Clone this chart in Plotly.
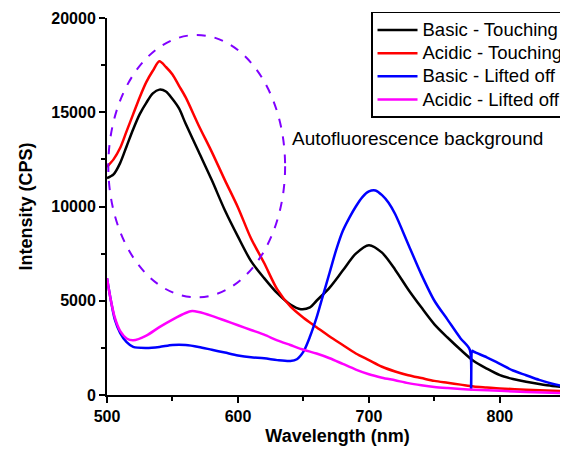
import plotly.graph_objects as go

# ---- data ----
bt_x = [500, 505, 510, 515, 520, 525, 530, 535, 540, 545, 550, 555, 560, 570, 580, 590, 600, 610, 620,
        630, 640, 648, 655, 660, 670, 680, 690, 700, 710, 720, 730, 740, 750, 760, 770, 780, 790, 800,
        810, 820, 830, 840, 852]
bt_y = [11500, 11700, 12300, 13200, 14100, 14900, 15500, 16000, 16200, 16100, 15700, 15200, 14400, 12900,
        11400, 9800, 8400, 7100, 6200, 5400, 4800, 4550, 4650, 5000, 5700, 6600, 7500, 7950, 7550, 6650,
        5600, 4650, 3750, 3050, 2400, 1800, 1400, 1050, 850, 700, 580, 480, 410]

at_x = [500, 505, 510, 515, 520, 525, 530, 535, 540, 545, 550, 555, 560, 570, 580, 590, 600, 610, 620,
        630, 640, 650, 660, 670, 680, 690, 700, 710, 720, 730, 740, 750, 760, 770, 780, 790, 800, 820, 852]
at_y = [12100, 12500, 13100, 14000, 14900, 15800, 16600, 17200, 17700, 17400, 17000, 16400, 15800, 14300,
        12900, 11400, 9950, 8300, 7000, 5600, 4700, 4100, 3600, 3100, 2650, 2200, 1850, 1500, 1250, 1050,
        900, 750, 650, 550, 450, 400, 350, 280, 200]

bl_x = [500, 503, 506, 510, 515, 520, 530, 540, 550, 560, 570, 580, 590, 600, 610, 620, 630, 640, 645,
        650, 655, 660, 665, 670, 675, 680, 685, 690, 695, 700, 705, 710, 715, 720, 730, 740, 750, 760,
        770, 777, 778, 779, 780, 790, 800, 810, 820, 830, 840, 852]
bl_y = [6200, 5000, 4000, 3300, 2800, 2550, 2500, 2550, 2650, 2650, 2550, 2400, 2250, 2100, 2000, 1950,
        1850, 1800, 1900, 2300, 3100, 4100, 5300, 6500, 7700, 8700, 9400, 10000, 10500, 10800, 10850,
        10600, 10200, 9600, 8000, 6400, 5000, 4000, 3000, 2400, 300, 2350, 2300, 2000, 1650, 1300, 1050,
        800, 600, 420]

al_x = [500, 503, 506, 510, 515, 520, 530, 540, 550, 560, 565, 570, 580, 590, 600, 610, 620, 630, 640,
        650, 660, 670, 680, 690, 700, 710, 720, 730, 740, 750, 760, 770, 780, 800, 820, 852]
al_y = [6200, 5000, 4100, 3400, 3000, 2900, 3150, 3600, 4000, 4350, 4450, 4400, 4200, 3950, 3700, 3450,
        3200, 2900, 2650, 2400, 2200, 1950, 1650, 1350, 1100, 920, 780, 630, 520, 430, 370, 320, 280,
        220, 160, 100]

series_names = ["Basic - Touching", "Acidic - Touching", "Basic - Lifted off", "Acidic - Lifted off"]
series_colors = ["#000000", "#ff0000", "#0000ff", "#ff00ff"]

x_ticks = [500, 600, 700, 800]
y_ticks = [0, 5000, 10000, 15000, 20000]

ellipse_x = [501, 636]
ellipse_y = [5180, 19100]
note_text = "Autofluorescence background"
note_pos = (640, 13600)

FONT = "Liberation Sans, Arial, sans-serif"

fig = go.Figure()
for xs, ys, name, col in zip([bt_x, at_x, bl_x, al_x], [bt_y, at_y, bl_y, al_y], series_names, series_colors):
    fig.add_trace(go.Scatter(x=xs, y=ys, mode="lines",
                             name='<span style="font-size:18.5px">' + name + '</span>',
                             line=dict(color=col, width=2.5, shape="spline", smoothing=0.8)))

fig.add_shape(type="circle", xref="x", yref="y",
              x0=ellipse_x[0], x1=ellipse_x[1], y0=ellipse_y[0], y1=ellipse_y[1],
              line=dict(color="#8000ff", width=2, dash="dash"))

fig.add_annotation(x=note_pos[0], y=note_pos[1], text=note_text, showarrow=False,
                   xanchor="left", yanchor="middle", font=dict(family=FONT, size=19, color="black"))

axis_common = dict(showline=True, linecolor="black", linewidth=2, ticks="outside", ticklen=6,
                   tickwidth=2, tickcolor="black", showgrid=False, zeroline=False,
                   tickfont=dict(family=FONT, size=16, color="black", weight="bold"))

fig.update_xaxes(range=[500, 852], tickvals=x_ticks, ticktext=[str(v) for v in x_ticks],
                 minor=dict(ticks="outside", ticklen=4, tickwidth=2, tickcolor="black", dtick=50, tick0=500),
                 title=dict(text="Wavelength (nm)", font=dict(family=FONT, size=18, color="black", weight="bold"),
                            standoff=5),
                 **axis_common)
fig.update_yaxes(range=[0, 20000], tickvals=y_ticks, ticktext=[str(v) for v in y_ticks],
                 minor=dict(ticks="outside", ticklen=4, tickwidth=2, tickcolor="black", dtick=2500, tick0=0),
                 title=dict(text="Intensity (CPS)", font=dict(family=FONT, size=18, color="black", weight="bold"),
                            standoff=14),
                 **axis_common)

fig.update_layout(
    width=560, height=446,
    margin=dict(l=99, r=0, t=10, b=59, autoexpand=False),
    plot_bgcolor="white", paper_bgcolor="white",
    showlegend=True,
    legend=dict(x=0.5727, y=1.016, xanchor="left", yanchor="top",
                bordercolor="black", borderwidth=1.5, bgcolor="white",
                font=dict(family=FONT, size=15.5, color="black"),
                itemwidth=40, tracegroupgap=0),
)

fig.write_html("out.html")
